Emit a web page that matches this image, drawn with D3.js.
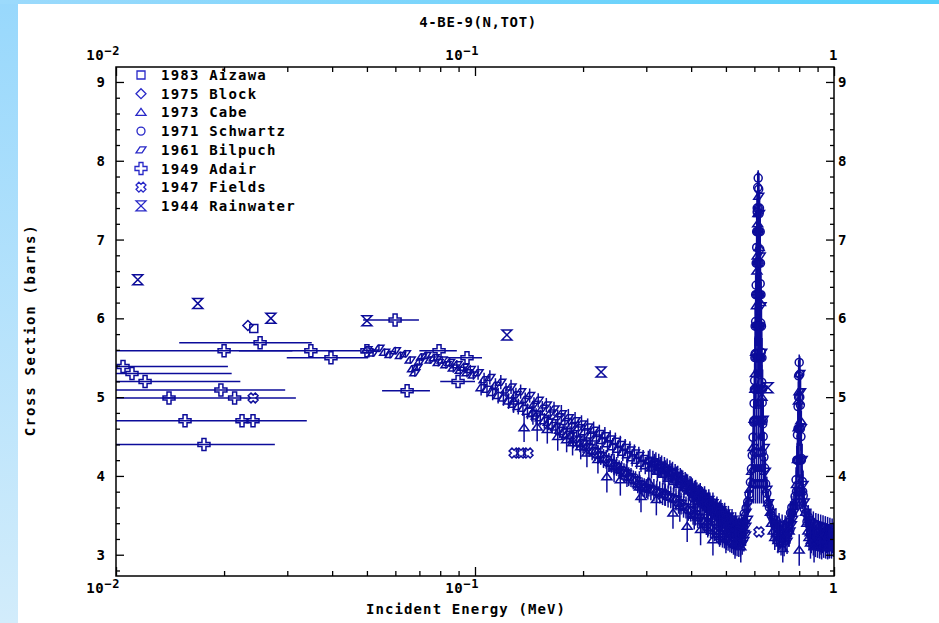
<!DOCTYPE html>
<html>
<head>
<meta charset="utf-8">
<script src="https://cdn.jsdelivr.net/npm/d3@7"></script>
<style>
html, body { margin: 0; padding: 0; background: #fff; }
svg { display: block; }
text { font-family: "DejaVu Sans Mono", monospace; font-weight: bold; fill: #000; }
</style>
</head>
<body>
<svg width="939" height="623"></svg>
<script>
// ---- data (energy in MeV, cross section in barns) ----
const aizawa = [[0.0242, 5.87]];
const block = [[0.0233, 5.91]];

// [E, sigma, dsigma]
const cabe = [
    [0.128, 4.95, 0.15], [0.137, 4.61, 0.18], [0.145, 4.80, 0.15], [0.149, 4.62, 0.18],
    [0.159, 4.59, 0.18], [0.170, 4.50, 0.18], [0.180, 4.46, 0.16], [0.187, 4.42, 0.16],
    [0.197, 4.37, 0.16], [0.205, 4.29, 0.18], [0.220, 4.21, 0.18], [0.233, 3.99, 0.20],
    [0.244, 4.10, 0.18], [0.254, 3.95, 0.20], [0.265, 4.04, 0.18], [0.287, 3.86, 0.20],
    [0.290, 3.74, 0.20], [0.305, 3.92, 0.18], [0.320, 3.70, 0.20], [0.338, 3.80, 0.18],
    [0.356, 3.53, 0.20], [0.372, 3.62, 0.20], [0.390, 3.36, 0.20], [0.408, 3.50, 0.18],
    [0.425, 3.32, 0.20], [0.445, 3.42, 0.20], [0.460, 3.19, 0.20], [0.480, 3.30, 0.20],
    [0.500, 3.22, 0.20], [0.530, 3.15, 0.20], [0.550, 3.10, 0.20], [0.604, 5.30, 0.30],
    [0.610, 6.60, 0.30], [0.613, 7.20, 0.30], [0.619, 6.90, 0.30], [0.624, 6.20, 0.30],
    [0.630, 5.00, 0.30], [0.700, 3.22, 0.18], [0.720, 3.08, 0.18], [0.750, 3.30, 0.20],
    [0.796, 4.95, 0.25], [0.800, 3.06, 0.20], [0.808, 4.70, 0.25], [0.860, 3.15, 0.20],
    [0.880, 3.10, 0.20], [0.920, 3.20, 0.20], [0.970, 3.15, 0.20]
];

// [E, sigma, dsigma]
const schwartz = [
    [0.400, 3.80, 0.14], [0.405, 3.72, 0.14], [0.410, 3.77, 0.14], [0.415, 3.69, 0.14],
    [0.420, 3.75, 0.14], [0.425, 3.66, 0.14], [0.430, 3.72, 0.14], [0.435, 3.62, 0.14],
    [0.440, 3.68, 0.14], [0.445, 3.58, 0.14], [0.450, 3.65, 0.14], [0.455, 3.55, 0.14],
    [0.460, 3.61, 0.14], [0.465, 3.52, 0.14], [0.470, 3.58, 0.14], [0.475, 3.48, 0.14],
    [0.480, 3.54, 0.14], [0.485, 3.44, 0.14], [0.490, 3.50, 0.14], [0.495, 3.40, 0.14],
    [0.500, 3.46, 0.14], [0.505, 3.36, 0.14], [0.510, 3.42, 0.14], [0.515, 3.32, 0.14],
    [0.520, 3.38, 0.14], [0.525, 3.28, 0.14], [0.530, 3.34, 0.14], [0.535, 3.25, 0.14],
    [0.540, 3.31, 0.14], [0.545, 3.23, 0.14], [0.550, 3.30, 0.14], [0.555, 3.26, 0.14],
    [0.562, 3.52, 0.15], [0.569, 3.59, 0.15], [0.575, 3.67, 0.15], [0.580, 3.77, 0.15],
    [0.585, 3.92, 0.16], [0.589, 4.09, 0.16], [0.592, 4.26, 0.18], [0.595, 4.49, 0.18],
    [0.597, 4.68, 0.20], [0.599, 4.92, 0.20], [0.601, 5.21, 0.22], [0.603, 5.55, 0.22],
    [0.605, 5.96, 0.24], [0.607, 6.42, 0.24], [0.609, 6.90, 0.24], [0.611, 7.35, 0.24],
    [0.613, 7.66, 0.20], [0.615, 7.78, 0.10], [0.617, 7.64, 0.20], [0.619, 7.33, 0.24],
    [0.621, 6.88, 0.24], [0.623, 6.44, 0.24], [0.625, 5.94, 0.24], [0.627, 5.57, 0.22],
    [0.629, 5.19, 0.22], [0.631, 4.93, 0.20], [0.633, 4.66, 0.20], [0.635, 4.50, 0.18],
    [0.638, 4.24, 0.18], [0.641, 4.10, 0.16], [0.645, 3.90, 0.16], [0.650, 3.78, 0.15],
    [0.655, 3.65, 0.15], [0.661, 3.60, 0.15], [0.668, 3.50, 0.15], [0.675, 3.46, 0.15],
    [0.682, 3.40, 0.15], [0.689, 3.44, 0.15], [0.696, 3.34, 0.15], [0.703, 3.38, 0.15],
    [0.710, 3.30, 0.15], [0.717, 3.36, 0.15], [0.724, 3.29, 0.15], [0.731, 3.35, 0.15],
    [0.738, 3.32, 0.15], [0.745, 3.41, 0.15], [0.751, 3.44, 0.15], [0.757, 3.53, 0.15],
    [0.763, 3.60, 0.15], [0.766, 3.52, 0.15], [0.773, 3.61, 0.15], [0.779, 3.74, 0.15],
    [0.784, 3.95, 0.16], [0.788, 4.20, 0.18], [0.791, 4.52, 0.18], [0.794, 4.88, 0.20],
    [0.797, 5.27, 0.20], [0.800, 5.44, 0.10], [0.803, 5.29, 0.20], [0.806, 4.90, 0.20],
    [0.809, 4.50, 0.18], [0.812, 4.22, 0.18], [0.816, 3.93, 0.16], [0.821, 3.75, 0.15],
    [0.827, 3.58, 0.15], [0.834, 3.53, 0.15], [0.841, 3.42, 0.15], [0.848, 3.48, 0.15],
    [0.855, 3.37, 0.15], [0.862, 3.43, 0.15], [0.869, 3.33, 0.15], [0.876, 3.40, 0.15],
    [0.883, 3.31, 0.15], [0.890, 3.38, 0.15], [0.897, 3.29, 0.15], [0.904, 3.37, 0.15],
    [0.911, 3.28, 0.15], [0.918, 3.36, 0.15], [0.925, 3.27, 0.15], [0.932, 3.35, 0.15],
    [0.939, 3.26, 0.15], [0.946, 3.34, 0.15], [0.953, 3.25, 0.15], [0.960, 3.33, 0.15],
    [0.967, 3.24, 0.15], [0.974, 3.32, 0.15], [0.981, 3.25, 0.15], [0.988, 3.31, 0.15],
    [0.995, 3.26, 0.15]
];

// [E, sigma, dsigma] -- points inside the two resonance peaks
const schwartzPeaks = [
    [0.596, 3.90, 0.25], [0.604, 3.90, 0.25], [0.612, 3.90, 0.25], [0.620, 3.90, 0.25],
    [0.628, 3.90, 0.25], [0.636, 3.90, 0.25], [0.600, 4.30, 0.25], [0.608, 4.30, 0.25],
    [0.616, 4.30, 0.25], [0.624, 4.30, 0.25], [0.631, 4.30, 0.25], [0.598, 4.70, 0.25],
    [0.602, 4.70, 0.25], [0.609, 4.70, 0.25], [0.616, 4.70, 0.25], [0.623, 4.70, 0.25],
    [0.629, 4.70, 0.25], [0.635, 4.70, 0.25], [0.600, 5.10, 0.25], [0.604, 5.10, 0.25],
    [0.610, 5.10, 0.25], [0.616, 5.10, 0.25], [0.622, 5.10, 0.25], [0.627, 5.10, 0.25],
    [0.632, 5.10, 0.25], [0.602, 5.50, 0.25], [0.606, 5.50, 0.25], [0.611, 5.50, 0.25],
    [0.616, 5.50, 0.25], [0.621, 5.50, 0.25], [0.625, 5.50, 0.25], [0.630, 5.50, 0.25],
    [0.603, 5.90, 0.25], [0.608, 5.90, 0.25], [0.612, 5.90, 0.25], [0.616, 5.90, 0.25],
    [0.620, 5.90, 0.25], [0.623, 5.90, 0.25], [0.628, 5.90, 0.25], [0.605, 6.30, 0.25],
    [0.609, 6.30, 0.25], [0.613, 6.30, 0.25], [0.617, 6.30, 0.25], [0.621, 6.30, 0.25],
    [0.626, 6.30, 0.25], [0.607, 6.70, 0.25], [0.611, 6.70, 0.25], [0.615, 6.70, 0.25],
    [0.619, 6.70, 0.25], [0.624, 6.70, 0.25], [0.609, 7.10, 0.25], [0.612, 7.10, 0.25],
    [0.616, 7.10, 0.25], [0.619, 7.10, 0.25], [0.623, 7.10, 0.25], [0.611, 7.40, 0.20],
    [0.615, 7.40, 0.20], [0.620, 7.40, 0.20],
    [0.786, 3.80, 0.22], [0.794, 3.80, 0.22], [0.802, 3.80, 0.22], [0.810, 3.80, 0.22],
    [0.818, 3.80, 0.22], [0.790, 4.20, 0.22], [0.797, 4.20, 0.22], [0.804, 4.20, 0.22],
    [0.811, 4.20, 0.22], [0.794, 4.60, 0.22], [0.800, 4.60, 0.22], [0.806, 4.60, 0.22],
    [0.797, 5.00, 0.22], [0.803, 5.00, 0.22]
];

// [E, sigma, dsigma] -- main band
const bilpuch = [
    [0.050, 5.60, 0.05], [0.052, 5.56, 0.05], [0.054, 5.62, 0.05], [0.056, 5.57, 0.05],
    [0.058, 5.54, 0.05], [0.060, 5.59, 0.05], [0.062, 5.53, 0.05], [0.064, 5.55, 0.05],
    [0.066, 5.47, 0.05], [0.067, 5.36, 0.05], [0.068, 5.31, 0.05], [0.069, 5.38, 0.05],
    [0.070, 5.45, 0.05], [0.071, 5.51, 0.05], [0.073, 5.53, 0.05], [0.075, 5.47, 0.05],
    [0.077, 5.50, 0.05], [0.079, 5.44, 0.05], [0.081, 5.47, 0.05], [0.083, 5.41, 0.05],
    [0.085, 5.44, 0.06], [0.087, 5.37, 0.06], [0.089, 5.41, 0.06], [0.091, 5.34, 0.06],
    [0.093, 5.38, 0.06], [0.095, 5.31, 0.06], [0.097, 5.35, 0.06], [0.099, 5.28, 0.06],
    [0.102, 5.31, 0.09], [0.106, 5.22, 0.09], [0.110, 5.25, 0.09], [0.114, 5.15, 0.09],
    [0.118, 5.19, 0.09], [0.122, 5.09, 0.09], [0.126, 5.13, 0.09], [0.130, 5.03, 0.09],
    [0.134, 5.07, 0.09], [0.138, 4.97, 0.09], [0.142, 5.02, 0.09], [0.146, 4.91, 0.09],
    [0.150, 4.96, 0.09], [0.154, 4.86, 0.09], [0.158, 4.90, 0.09], [0.162, 4.80, 0.09],
    [0.166, 4.85, 0.09], [0.170, 4.75, 0.09], [0.174, 4.79, 0.11], [0.178, 4.69, 0.11],
    [0.182, 4.74, 0.11], [0.186, 4.64, 0.11], [0.190, 4.70, 0.11], [0.194, 4.61, 0.11],
    [0.198, 4.66, 0.11], [0.202, 4.56, 0.11], [0.206, 4.62, 0.11], [0.210, 4.52, 0.11],
    [0.214, 4.58, 0.11], [0.218, 4.48, 0.11], [0.222, 4.54, 0.11], [0.226, 4.45, 0.11],
    [0.230, 4.51, 0.11], [0.234, 4.41, 0.11], [0.238, 4.47, 0.11], [0.242, 4.37, 0.11],
    [0.246, 4.44, 0.11], [0.250, 4.34, 0.11], [0.254, 4.40, 0.11], [0.258, 4.30, 0.11],
    [0.262, 4.36, 0.11], [0.266, 4.27, 0.11], [0.270, 4.33, 0.11], [0.274, 4.23, 0.11],
    [0.278, 4.29, 0.11], [0.282, 4.20, 0.11], [0.286, 4.26, 0.11], [0.290, 4.16, 0.11],
    [0.294, 4.22, 0.11], [0.298, 4.13, 0.11], [0.304, 4.19, 0.13], [0.310, 4.10, 0.13],
    [0.316, 4.15, 0.13], [0.322, 4.06, 0.13], [0.328, 4.11, 0.13], [0.334, 4.02, 0.13],
    [0.340, 4.07, 0.13], [0.346, 3.97, 0.13], [0.352, 4.03, 0.13], [0.358, 3.93, 0.13],
    [0.364, 3.99, 0.13], [0.370, 3.89, 0.13], [0.376, 3.95, 0.13], [0.382, 3.85, 0.13],
    [0.388, 3.90, 0.13], [0.394, 3.81, 0.13], [0.400, 3.86, 0.13], [0.406, 3.76, 0.13],
    [0.412, 3.82, 0.13], [0.418, 3.72, 0.13], [0.424, 3.78, 0.13], [0.430, 3.68, 0.13],
    [0.436, 3.74, 0.13], [0.442, 3.64, 0.13], [0.448, 3.70, 0.13], [0.454, 3.60, 0.13],
    [0.460, 3.66, 0.13], [0.466, 3.56, 0.13], [0.472, 3.61, 0.13], [0.478, 3.52, 0.13],
    [0.484, 3.57, 0.13], [0.490, 3.48, 0.13], [0.496, 3.53, 0.13], [0.502, 3.44, 0.13],
    [0.508, 3.49, 0.13], [0.514, 3.40, 0.13], [0.520, 3.45, 0.13], [0.526, 3.36, 0.13],
    [0.532, 3.41, 0.13], [0.538, 3.32, 0.13], [0.544, 3.37, 0.13], [0.550, 3.29, 0.13],
    [0.556, 3.34, 0.13], [0.562, 3.27, 0.13], [0.568, 3.36, 0.13], [0.574, 3.45, 0.13]
];

// [E, sigma, dsigma] -- lower edge of the band
const bilpuchLow = [
    [0.104, 5.12, 0.10], [0.108, 5.10, 0.10], [0.112, 5.06, 0.10], [0.116, 5.02, 0.10],
    [0.120, 4.99, 0.10], [0.124, 4.95, 0.10], [0.128, 4.91, 0.10], [0.132, 4.88, 0.10],
    [0.136, 4.86, 0.10], [0.140, 4.82, 0.10], [0.144, 4.79, 0.10], [0.148, 4.76, 0.10],
    [0.152, 4.74, 0.10], [0.156, 4.70, 0.10], [0.160, 4.68, 0.10], [0.164, 4.64, 0.10],
    [0.168, 4.62, 0.10], [0.172, 4.58, 0.10], [0.176, 4.56, 0.10], [0.180, 4.53, 0.10],
    [0.184, 4.51, 0.12], [0.188, 4.47, 0.12], [0.192, 4.46, 0.12], [0.196, 4.42, 0.12],
    [0.200, 4.41, 0.12], [0.204, 4.37, 0.12], [0.208, 4.36, 0.12], [0.212, 4.32, 0.12],
    [0.216, 4.31, 0.12], [0.220, 4.27, 0.12], [0.224, 4.26, 0.12], [0.228, 4.22, 0.12],
    [0.232, 4.21, 0.12], [0.236, 4.17, 0.12], [0.240, 4.16, 0.12], [0.244, 4.13, 0.12],
    [0.248, 4.12, 0.12], [0.252, 4.08, 0.12], [0.256, 4.07, 0.12], [0.260, 4.04, 0.12],
    [0.264, 4.03, 0.12], [0.268, 3.99, 0.12], [0.272, 3.98, 0.12], [0.276, 3.95, 0.12],
    [0.280, 3.94, 0.12], [0.284, 3.90, 0.12], [0.288, 3.89, 0.12], [0.292, 3.86, 0.12],
    [0.296, 3.85, 0.12], [0.300, 3.84, 0.12], [0.303, 3.84, 0.14], [0.309, 3.83, 0.14],
    [0.315, 3.82, 0.14], [0.321, 3.80, 0.14], [0.327, 3.79, 0.14], [0.333, 3.77, 0.14],
    [0.339, 3.76, 0.14], [0.345, 3.74, 0.14], [0.351, 3.73, 0.14], [0.357, 3.71, 0.14],
    [0.363, 3.70, 0.14], [0.369, 3.66, 0.14], [0.375, 3.65, 0.14], [0.381, 3.61, 0.14],
    [0.387, 3.60, 0.14], [0.393, 3.57, 0.14], [0.399, 3.56, 0.14], [0.405, 3.52, 0.14],
    [0.411, 3.51, 0.14], [0.417, 3.48, 0.14], [0.423, 3.47, 0.14], [0.429, 3.43, 0.14],
    [0.435, 3.42, 0.14], [0.441, 3.39, 0.14], [0.447, 3.38, 0.14], [0.453, 3.35, 0.14],
    [0.459, 3.34, 0.14], [0.465, 3.31, 0.14], [0.471, 3.30, 0.14], [0.477, 3.27, 0.14],
    [0.483, 3.26, 0.14], [0.489, 3.23, 0.14], [0.495, 3.22, 0.14], [0.501, 3.20, 0.14],
    [0.507, 3.19, 0.14], [0.513, 3.17, 0.14], [0.519, 3.16, 0.14], [0.525, 3.14, 0.14],
    [0.531, 3.13, 0.14], [0.537, 3.12, 0.14], [0.543, 3.11, 0.14], [0.549, 3.12, 0.14],
    [0.555, 3.14, 0.14], [0.561, 3.18, 0.14], [0.567, 3.25, 0.14]
];

// [E, sigma, dsigma] -- upper edge of the band and the resonance region
const bilpuchHigh = [
    [0.307, 4.20, 0.14], [0.313, 4.18, 0.14], [0.319, 4.16, 0.14], [0.325, 4.14, 0.14],
    [0.331, 4.12, 0.14], [0.337, 4.10, 0.14], [0.343, 4.08, 0.14], [0.349, 4.06, 0.14],
    [0.355, 4.04, 0.14], [0.361, 4.01, 0.14], [0.367, 3.99, 0.14], [0.373, 3.96, 0.14],
    [0.379, 3.93, 0.14], [0.385, 3.91, 0.14], [0.391, 3.88, 0.14], [0.397, 3.86, 0.14],
    [0.403, 3.83, 0.14], [0.409, 3.80, 0.14], [0.415, 3.78, 0.14], [0.421, 3.75, 0.14],
    [0.427, 3.73, 0.14], [0.433, 3.70, 0.14], [0.439, 3.68, 0.14], [0.445, 3.65, 0.14],
    [0.451, 3.63, 0.14], [0.457, 3.60, 0.14], [0.463, 3.58, 0.14], [0.469, 3.56, 0.14],
    [0.475, 3.53, 0.14], [0.481, 3.51, 0.14], [0.487, 3.49, 0.14], [0.493, 3.47, 0.14],
    [0.499, 3.45, 0.14], [0.505, 3.42, 0.14], [0.511, 3.41, 0.14], [0.517, 3.39, 0.14],
    [0.523, 3.37, 0.14], [0.529, 3.36, 0.14], [0.535, 3.34, 0.14], [0.541, 3.33, 0.14],
    [0.547, 3.33, 0.14], [0.553, 3.34, 0.14], [0.559, 3.36, 0.14], [0.565, 3.40, 0.14],
    [0.569, 3.54, 0.15], [0.577, 3.66, 0.15], [0.584, 3.83, 0.16], [0.590, 4.06, 0.18],
    [0.595, 4.36, 0.20], [0.599, 4.72, 0.22], [0.602, 5.10, 0.25], [0.605, 5.57, 0.28],
    [0.608, 6.16, 0.30], [0.611, 6.79, 0.30], [0.614, 7.33, 0.30], [0.617, 7.55, 0.30],
    [0.620, 7.33, 0.30], [0.623, 6.79, 0.30], [0.626, 6.16, 0.30], [0.629, 5.57, 0.28],
    [0.632, 5.10, 0.25], [0.635, 4.72, 0.22], [0.639, 4.36, 0.20], [0.644, 4.06, 0.18],
    [0.650, 3.83, 0.16], [0.657, 3.66, 0.15], [0.665, 3.54, 0.15], [0.670, 3.40, 0.16],
    [0.677, 3.30, 0.16], [0.684, 3.22, 0.16], [0.691, 3.27, 0.16], [0.698, 3.18, 0.16],
    [0.705, 3.24, 0.16], [0.712, 3.15, 0.16], [0.719, 3.22, 0.16], [0.726, 3.14, 0.16],
    [0.733, 3.20, 0.16], [0.740, 3.17, 0.16], [0.747, 3.26, 0.16], [0.754, 3.30, 0.16],
    [0.761, 3.38, 0.16], [0.767, 3.45, 0.16], [0.773, 3.54, 0.16], [0.780, 3.67, 0.16],
    [0.786, 3.89, 0.18], [0.791, 4.21, 0.20], [0.795, 4.61, 0.22], [0.799, 5.07, 0.22],
    [0.803, 5.30, 0.22], [0.807, 5.07, 0.22], [0.811, 4.61, 0.22], [0.815, 4.21, 0.20],
    [0.820, 3.89, 0.18], [0.826, 3.67, 0.16], [0.833, 3.54, 0.16], [0.840, 3.40, 0.16],
    [0.846, 3.30, 0.16], [0.852, 3.22, 0.16], [0.858, 3.28, 0.16], [0.864, 3.18, 0.16],
    [0.870, 3.25, 0.16], [0.876, 3.15, 0.16], [0.882, 3.22, 0.16], [0.888, 3.13, 0.16],
    [0.894, 3.21, 0.16], [0.900, 3.12, 0.16], [0.906, 3.20, 0.16], [0.912, 3.11, 0.16],
    [0.918, 3.19, 0.16], [0.924, 3.10, 0.16], [0.930, 3.18, 0.16], [0.936, 3.12, 0.16],
    [0.942, 3.20, 0.16], [0.948, 3.11, 0.16], [0.954, 3.18, 0.16], [0.960, 3.10, 0.16],
    [0.966, 3.19, 0.16], [0.972, 3.12, 0.16], [0.978, 3.20, 0.16], [0.984, 3.11, 0.16],
    [0.990, 3.18, 0.16], [0.996, 3.13, 0.16]
];

// [E, sigma, Elow, Ehigh]
const adair = [
    [0.01046, 5.39, 0.008, 0.0205], [0.01108, 5.30, 0.008, 0.0210], [0.01205, 5.20, 0.008, 0.0222],
    [0.0196, 5.09, 0.008, 0.0296], [0.01405, 4.99, 0.0135, 0.0146], [0.0214, 4.99, 0.008, 0.0317],
    [0.01557, 4.70, 0.008, 0.0340], [0.02244, 4.70, 0.0215, 0.0233], [0.02408, 4.70, 0.0232, 0.0250],
    [0.01758, 4.40, 0.007, 0.0277], [0.0200, 5.59, 0.008, 0.0310], [0.0349, 5.59, 0.0220, 0.0480],
    [0.0500, 5.59, 0.0485, 0.0515], [0.0252, 5.69, 0.0150, 0.0351], [0.0397, 5.50, 0.0299, 0.0504],
    [0.0599, 5.98, 0.0488, 0.0698], [0.0647, 5.08, 0.0551, 0.0749], [0.0794, 5.59, 0.0700, 0.0890],
    [0.0897, 5.20, 0.0800, 0.1000], [0.0950, 5.50, 0.0836, 0.1046]
];

const fields = [[0.0241, 4.99], [0.1285, 4.29], [0.1343, 4.29], [0.1405, 4.29], [0.618, 3.29]];

const rainwater = [[0.0115, 6.49], [0.0169, 6.19], [0.0270, 6.00], [0.0500, 5.97],
    [0.1227, 5.79], [0.2245, 5.32], [0.655, 5.12]];

const legendNames = ["1983 Aizawa", "1975 Block", "1973 Cabe", "1971 Schwartz",
    "1961 Bilpuch", "1949 Adair", "1947 Fields", "1944 Rainwater"];
const yTicks = [3, 4, 5, 6, 7, 8, 9];
const xTicks = [0.01, 0.1, 1];
const xTickLabels = [["10", "\u22122"], ["10", "\u22121"], ["1", ""]];

// ---- layout ----
const width = 939, height = 623;
const margin = { top: 67, right: 105, bottom: 47, left: 116 };
const ink = "#0c0c9a";

const svg = d3.select("svg");

// background strips
const defs = svg.append("defs");
const gLeft = defs.append("linearGradient").attr("id", "gl")
    .attr("x1", 0).attr("y1", 0).attr("x2", 0).attr("y2", 1);
gLeft.append("stop").attr("offset", 0).attr("stop-color", "#98d8fc");
gLeft.append("stop").attr("offset", 1).attr("stop-color", "#d2ecfb");
const gTop = defs.append("linearGradient").attr("id", "gt")
    .attr("x1", 0).attr("y1", 0).attr("x2", 1).attr("y2", 0);
gTop.append("stop").attr("offset", 0).attr("stop-color", "#9cdafc");
gTop.append("stop").attr("offset", 1).attr("stop-color", "#55cffb");
svg.append("rect").attr("width", 18).attr("height", height).attr("fill", "url(#gl)");
svg.append("rect").attr("width", width).attr("height", 4).attr("fill", "url(#gt)");

defs.append("clipPath").attr("id", "plotclip").append("rect")
    .attr("x", margin.left).attr("y", margin.top)
    .attr("width", width - margin.left - margin.right)
    .attr("height", height - margin.top - margin.bottom);

const x = d3.scaleLog().domain([0.01, 1]).range([margin.left, width - margin.right]);
const y = d3.scaleLinear().domain([2.73, 9.19]).range([height - margin.bottom, margin.top]);

// ---- marker shapes ----
const shapes = {
    square: "M-4,-4H4V4H-4Z",
    diamond: "M0,-5L5,0L0,5L-5,0Z",
    triangle: "M0,-4L5,3L-5,3Z",
    circle: "M4,0A4,4 0 1,1 -4,0A4,4 0 1,1 4,0Z",
    slant: "M-5,3L1,3L5,-3L-1,-3Z",
    cross: "M-2,-6H2V-2H6V2H2V6H-2V2H-6V-2H-2Z",
    xcross: "M-2,-5H2V-2H5V2H2V5H-2V2H-5V-2H-2Z",
    hourglass: "M-5,-5H5L-5,5H5Z"
};
const legendShapes = ["square", "diamond", "triangle", "circle", "slant", "cross", "xcross", "hourglass"];

function marker(sel, shape, color, sw) {
    sel.append("path")
        .attr("d", shapes[shape])
        .attr("transform", shape === "xcross" ? "rotate(45)" : null)
        .attr("fill", "none")
        .attr("stroke", color || ink)
        .attr("stroke-width", sw || 1.5);
}

const plot = svg.append("g").attr("clip-path", "url(#plotclip)");

function drawSeries(data, shape, errMode) {
    const g = plot.append("g");
    if (errMode === "y") {
        g.selectAll("line.err").data(data).enter().append("line")
            .attr("x1", d => x(d[0])).attr("x2", d => x(d[0]))
            .attr("y1", d => y(d[1] - d[2])).attr("y2", d => y(d[1] + d[2]))
            .attr("stroke", ink).attr("stroke-width", 1.5);
    }
    if (errMode === "x") {
        g.selectAll("line.err").data(data).enter().append("line")
            .attr("x1", d => x(d[2])).attr("x2", d => x(d[3]))
            .attr("y1", d => y(d[1])).attr("y2", d => y(d[1]))
            .attr("stroke", ink).attr("stroke-width", 1.5);
    }
    g.selectAll("g.pt").data(data).enter().append("g")
        .attr("transform", d => `translate(${x(d[0])},${y(d[1])})`)
        .each(function () { marker(d3.select(this), shape); });
}

drawSeries(bilpuch, "slant", "y");
drawSeries(bilpuchLow, "slant", "y");
drawSeries(bilpuchHigh, "slant", "y");
drawSeries(schwartz, "circle", "y");
drawSeries(schwartzPeaks, "circle", "y");
drawSeries(cabe, "triangle", "y");
drawSeries(adair, "cross", "x");
drawSeries(fields, "xcross", null);
drawSeries(rainwater, "hourglass", null);
drawSeries(block, "diamond", null);
drawSeries(aizawa, "square", null);

// ---- axes ----
function styleAxis(g) {
    g.select(".domain").remove();
    g.selectAll(".tick line").attr("stroke", "#000").attr("stroke-width", 1.3);
    g.selectAll(".tick text").style("font-size", "14px").style("font-family", "DejaVu Sans Mono")
        .style("font-weight", "bold");
}
const yMinor = d3.range(28, 91, 2).map(v => v / 10).filter(v => !yTicks.includes(v));

svg.append("g").attr("transform", `translate(${margin.left},0)`)
    .call(d3.axisLeft(y).tickValues(yTicks).tickSize(-8).tickPadding(11).tickFormat(d3.format("d")))
    .call(styleAxis);
svg.append("g").attr("transform", `translate(${margin.left},0)`)
    .call(d3.axisLeft(y).tickValues(yMinor).tickSize(-4).tickFormat(""))
    .call(styleAxis);
svg.append("g").attr("transform", `translate(${width - margin.right},0)`)
    .call(d3.axisRight(y).tickValues(yTicks).tickSize(-8).tickPadding(4).tickFormat(d3.format("d")))
    .call(styleAxis);
svg.append("g").attr("transform", `translate(${width - margin.right},0)`)
    .call(d3.axisRight(y).tickValues(yMinor).tickSize(-4).tickFormat(""))
    .call(styleAxis);

const xMinor = x.ticks().filter(v => !xTicks.some(t => Math.abs(t - v) < 1e-9));
[["bottom", height - margin.bottom], ["top", margin.top]].forEach(([side, pos]) => {
    const mk = side === "bottom" ? d3.axisBottom : d3.axisTop;
    svg.append("g").attr("transform", `translate(0,${pos})`)
        .call(mk(x).tickValues(xTicks).tickSize(-9).tickFormat(""))
        .call(styleAxis);
    svg.append("g").attr("transform", `translate(0,${pos})`)
        .call(mk(x).tickValues(xMinor).tickSize(-5).tickFormat(""))
        .call(styleAxis);
});

xTicks.forEach((v, i) => {
    [height - margin.bottom + 17, margin.top - 7].forEach(ty => {
        const t = svg.append("text")
            .attr("x", x(v) + 4).attr("y", ty)
            .attr("text-anchor", "end")
            .style("font-size", "14px").style("letter-spacing", "0.6px");
        t.append("tspan").text(xTickLabels[i][0]);
        if (xTickLabels[i][1]) {
            t.append("tspan").attr("dy", -5).style("font-size", "12px").text(xTickLabels[i][1]);
        }
    });
});

// frame
svg.append("rect")
    .attr("x", margin.left).attr("y", margin.top)
    .attr("width", width - margin.left - margin.right)
    .attr("height", height - margin.top - margin.bottom)
    .attr("fill", "none").attr("stroke", "#000").attr("stroke-width", 1.5);

// ---- legend ----
const legend = svg.append("g");
legendNames.forEach((name, i) => {
    const ly = 75 + i * 18.7;
    const g = legend.append("g").attr("transform", `translate(141,${ly})`);
    marker(g, legendShapes[i], "#2828c8", 1.3);
    legend.append("text")
        .attr("x", 161).attr("y", ly + 5)
        .style("font-size", "14px").style("letter-spacing", "1.2px")
        .text(name);
});

// ---- titles ----
svg.append("text")
    .attr("x", 478).attr("y", 27)
    .attr("text-anchor", "middle")
    .style("font-size", "14px").style("letter-spacing", "0.6px")
    .text("4-BE-9(N,TOT)");

svg.append("text")
    .attr("x", 466).attr("y", 614)
    .attr("text-anchor", "middle")
    .style("font-size", "14px").style("letter-spacing", "1.1px")
    .text("Incident Energy (MeV)");

svg.append("text")
    .attr("transform", "translate(35,330) rotate(-90)")
    .attr("text-anchor", "middle")
    .style("font-size", "14px").style("letter-spacing", "1.7px")
    .text("Cross Section (barns)");
</script>
</body>
</html>
